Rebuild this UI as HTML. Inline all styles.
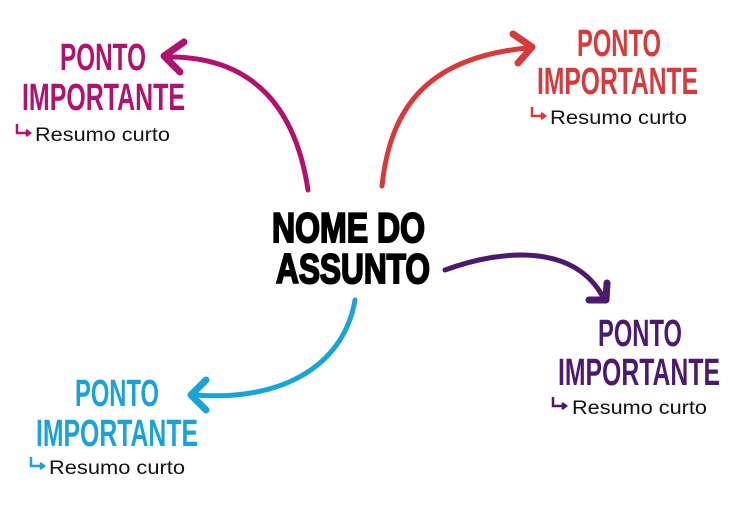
<!DOCTYPE html>
<html><head><meta charset="utf-8"><style>html,body{margin:0;padding:0;background:#fff}svg{display:block}</style></head>
<body>
<svg width="750" height="530" viewBox="0 0 750 530" xmlns="http://www.w3.org/2000/svg" font-family="Liberation Sans, sans-serif">
<g fill="none" stroke-width="5" stroke-linecap="round" stroke-linejoin="round">
<path d="M308,190 C296,110 255,58 172,57" stroke="#b0126e"/>
<path d="M184,42 L164,56 L180,72" stroke="#b0126e" stroke-width="7"/>
<path d="M382,186 C390,110 425,58 527,48" stroke="#d63a3a"/>
<path d="M513,34 L532,47 L518,63" stroke="#d63a3a" stroke-width="7"/>
<path d="M445,270 C505,248 575,245 603,297" stroke="#4b1a6e"/>
<path d="M607,283 L606,300 L589,300" stroke="#4b1a6e" stroke-width="7"/>
<path d="M355,300 C345,360 290,402 195,395" stroke="#1aa3d8"/>
<path d="M206,380 L191,395 L206,410" stroke="#1aa3d8" stroke-width="7"/>
</g>
<g font-weight="bold" font-size="38">
<text x="60" y="70" textLength="86" lengthAdjust="spacingAndGlyphs" fill="#b0126e">PONTO</text>
<text x="22" y="110" textLength="163" lengthAdjust="spacingAndGlyphs" fill="#b0126e">IMPORTANTE</text>
<text x="577" y="56" textLength="84" lengthAdjust="spacingAndGlyphs" fill="#d63a3a">PONTO</text>
<text x="537" y="94" textLength="161" lengthAdjust="spacingAndGlyphs" fill="#d63a3a">IMPORTANTE</text>
<text x="598" y="346" textLength="84" lengthAdjust="spacingAndGlyphs" fill="#4b1a6e">PONTO</text>
<text x="558" y="385" textLength="162" lengthAdjust="spacingAndGlyphs" fill="#4b1a6e">IMPORTANTE</text>
<text x="75" y="406" textLength="84" lengthAdjust="spacingAndGlyphs" fill="#1aa3d8">PONTO</text>
<text x="36" y="446" textLength="162" lengthAdjust="spacingAndGlyphs" fill="#1aa3d8">IMPORTANTE</text>
<text x="272" y="242" textLength="153" lengthAdjust="spacingAndGlyphs" font-size="42" fill="#000" stroke="#000" stroke-width="2">NOME DO</text>
<text x="276" y="283" textLength="154" lengthAdjust="spacingAndGlyphs" font-size="42" fill="#000" stroke="#000" stroke-width="2">ASSUNTO</text>
</g>
<g font-size="19" fill="#111">
<text x="35" y="141" textLength="135" lengthAdjust="spacingAndGlyphs">Resumo curto</text>
<text x="550" y="124" textLength="137" lengthAdjust="spacingAndGlyphs">Resumo curto</text>
<text x="572" y="414" textLength="135" lengthAdjust="spacingAndGlyphs">Resumo curto</text>
<text x="49" y="474" textLength="136" lengthAdjust="spacingAndGlyphs">Resumo curto</text>
</g>
<g fill="none" stroke-width="2.5">
<path d="M17,124 V133 H29 M26,130 L30,133 L26,136" stroke="#b0126e"/>
<path d="M532,107 V116 H544 M541,113 L545,116 L541,119" stroke="#d63a3a"/>
<path d="M553,397 V406 H565 M562,403 L566,406 L562,409" stroke="#4b1a6e"/>
<path d="M31,457 V466 H43 M40,463 L44,466 L40,469" stroke="#1aa3d8"/>
</g>
</svg>
</body></html>
